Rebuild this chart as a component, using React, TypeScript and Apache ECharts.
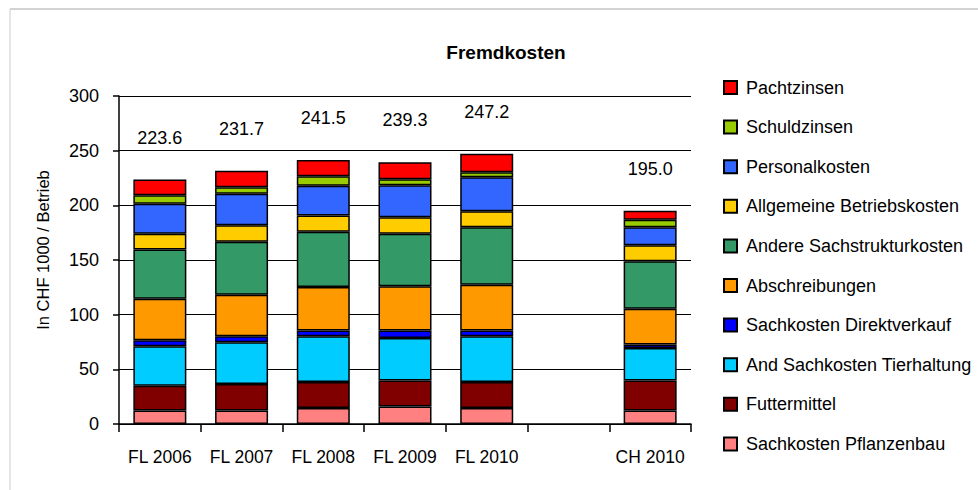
import React, { useEffect, useRef } from "react";
import * as echarts from "echarts";

const categories = ["FL 2006", "FL 2007", "FL 2008", "FL 2009", "FL 2010", "", "CH 2010"];

const pflanzenbau = [12.4, 12.4, 14.6, 16.1, 14.6, null, 12.4];
const futtermittel = [22.6, 24.2, 23.8, 23.8, 23.8, null, 27.5];
const tierhaltung = [36.0, 38.1, 41.8, 38.8, 41.8, null, 29.6];
const direktverkauf = [5.5, 5.5, 5.4, 6.9, 5.4, null, 3.1];
const abschreibungen = [38.1, 38.1, 39.7, 40.3, 41.8, null, 32.9];
const andereSachstruktur = [44.9, 48.5, 50.6, 48.2, 52.5, null, 43.3];
const allgemeineBetrieb = [14.6, 14.9, 14.7, 14.9, 14.6, null, 14.6];
const personalkosten = [27.4, 29.0, 27.4, 29.3, 31.1, null, 16.5];
const schuldzinsen = [7.7, 5.8, 8.5, 5.5, 4.6, null, 7.0];
const pachtzinsen = [14.4, 15.2, 15.0, 15.5, 17.0, null, 8.1];

const totals = [223.6, 231.7, 241.5, 239.3, 247.2, null, 195.0];

const yTicks = { min: 0, max: 300, interval: 50 };

const seriesDefs = [
  { name: "Sachkosten Pflanzenbau", data: pflanzenbau, color: "#FF8080" },
  { name: "Futtermittel", data: futtermittel, color: "#800000" },
  { name: "And Sachkosten Tierhaltung", data: tierhaltung, color: "#00CCFF" },
  { name: "Sachkosten Direktverkauf", data: direktverkauf, color: "#0000FF" },
  { name: "Abschreibungen", data: abschreibungen, color: "#FF9900" },
  { name: "Andere Sachstrukturkosten", data: andereSachstruktur, color: "#339966" },
  { name: "Allgemeine Betriebskosten", data: allgemeineBetrieb, color: "#FFCC00" },
  { name: "Personalkosten", data: personalkosten, color: "#3366FF" },
  { name: "Schuldzinsen", data: schuldzinsen, color: "#99CC00" },
  { name: "Pachtzinsen", data: pachtzinsen, color: "#FF0000" },
];

const FONT = "'Liberation Sans', Arial, sans-serif";

export default function App() {
  const ref = useRef<HTMLDivElement>(null);
  useEffect(() => {
    if (!ref.current) return;
    const chart = echarts.init(ref.current, undefined, { renderer: "svg" });
    const last = seriesDefs.length - 1;
    chart.setOption({
      animation: false,
      backgroundColor: "#fff",
      textStyle: { fontFamily: FONT },
      title: {
        text: "Fremdkosten",
        left: 501,
        top: 38,
        textAlign: "center",
        textStyle: { fontFamily: FONT, fontSize: 19, fontWeight: "bold", color: "#000" },
      },
      graphic: [
        { type: "line", shape: { x1: 10, y1: 9, x2: 978, y2: 9 }, style: { stroke: "#a6a6a6", lineWidth: 1 } },
        { type: "line", shape: { x1: 10, y1: 9, x2: 10, y2: 490 }, style: { stroke: "#cccccc", lineWidth: 1 } },
        {
          type: "text",
          x: 43,
          y: 250,
          rotation: Math.PI / 2,
          style: {
            text: "In CHF 1000 / Betrieb",
            fontFamily: FONT,
            fontSize: 16.5,
            fill: "#000",
            align: "center",
            verticalAlign: "middle",
          },
        },
      ],
      legend: {
        orient: "vertical",
        left: 718,
        top: 72,
        itemWidth: 13,
        itemHeight: 13,
        itemGap: 18.6,
        icon: "rect",
        data: seriesDefs.map((s) => s.name).reverse(),
        textStyle: { fontFamily: FONT, fontSize: 18, color: "#000", lineHeight: 21, padding: [0, 0, 0, 4] },
      },
      grid: { left: 119, right: 287, top: 96, bottom: 66 },
      xAxis: {
        type: "category",
        data: categories,
        axisLine: { lineStyle: { color: "#000", width: 1.5 } },
        axisTick: { show: true, length: 8, lineStyle: { color: "#000", width: 1.5 } },
        axisLabel: { color: "#000", fontFamily: FONT, fontSize: 17.5, margin: 24, interval: 0 },
      },
      yAxis: {
        type: "value",
        min: yTicks.min,
        max: yTicks.max,
        interval: yTicks.interval,
        axisLine: { show: true, lineStyle: { color: "#000", width: 1.5 } },
        axisTick: { show: true, length: 6, lineStyle: { color: "#000", width: 1.5 } },
        axisLabel: { color: "#000", fontFamily: FONT, fontSize: 18, margin: 20 },
        splitLine: { lineStyle: { color: "#000", width: 1.2 } },
      },
      series: seriesDefs.map((s, i) => ({
        name: s.name,
        type: "bar",
        stack: "total",
        data: s.data,
        barWidth: 53,
        itemStyle: { color: s.color, borderColor: "#000", borderWidth: 1.5 },
        label:
          i === last
            ? {
                show: true,
                position: "top",
                distance: 33,
                color: "#000",
                fontFamily: FONT,
                fontSize: 18,
                formatter: (p: any) => {
                  const t = totals[p.dataIndex];
                  return t == null ? "" : t.toFixed(1);
                },
              }
            : { show: false },
      })),
    });
    return () => chart.dispose();
  }, []);
  return (
    <div
      ref={ref}
      style={{ position: "absolute", left: 0, top: 0, width: 978, height: 490 }}
    />
  );
}
